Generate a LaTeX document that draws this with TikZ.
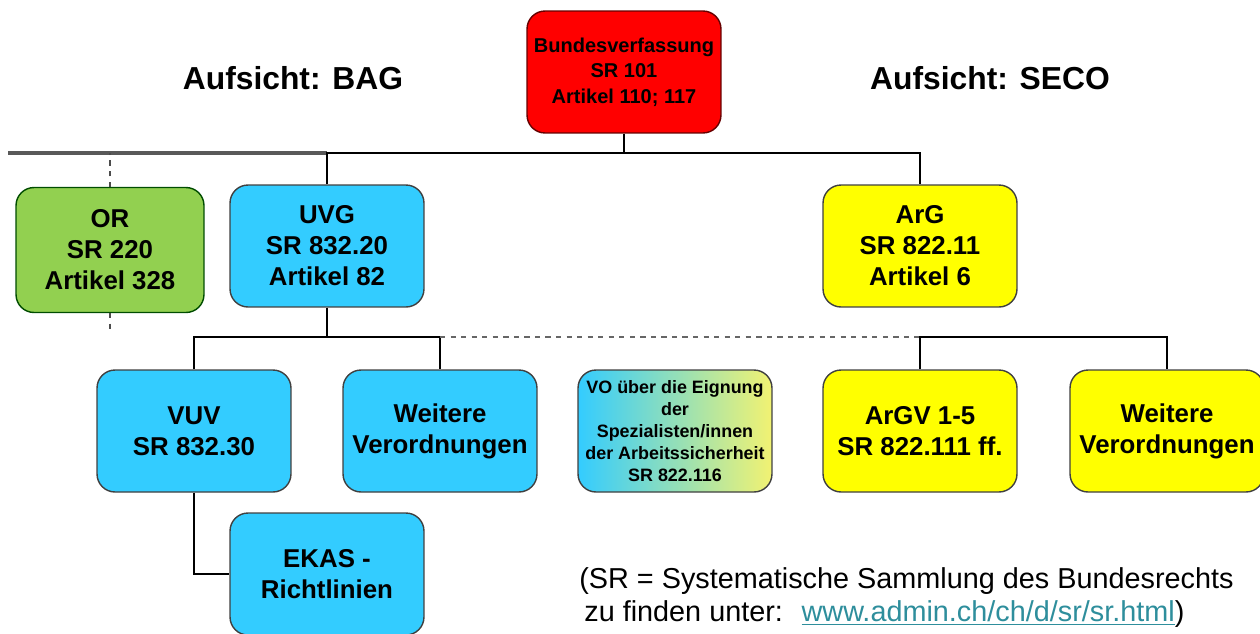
\documentclass[tikz,border=0pt]{standalone}
\usepackage{fontspec}
\setmainfont{Liberation Sans}
\usetikzlibrary{positioning}
\definecolor{bvred}{HTML}{FF0000}
\definecolor{orgreen}{HTML}{92D050}
\definecolor{bagcyan}{HTML}{33CCFF}
\definecolor{secoyellow}{HTML}{FFFF00}
\definecolor{vomid}{HTML}{A9BBB6}
\definecolor{voright}{HTML}{F2F272}
\definecolor{linkteal}{HTML}{2E8E9C}

\begin{document}
\begin{tikzpicture}[x=0.02cm, y=-0.02cm,
  law/.style={draw=black!75, line width=0.8pt, rounded corners=0.36cm, align=center,
    minimum width=3.88cm, minimum height=2.44cm, inner sep=2pt,
    font=\fontsize{14.7}{17.6}\selectfont\bfseries},
  conn/.style={line width=1.2pt},
  title/.style={font=\fontsize{18.1}{21}\selectfont\bfseries},
  note/.style={anchor=west, inner sep=0pt, font=\fontsize{16.4}{18}\selectfont}]
  \useasboundingbox (0,0) rectangle (1260,633);

  % Bundesverfassung
  \node[law, fill=bvred, draw=black!60!red,
        font=\fontsize{11.4}{14.4}\selectfont\bfseries] (bv) at (624,72)
        {Bundesverfassung\\SR 101\\Artikel 110; 117};
  \node[title] (bag) at (293,78) {Aufsicht: BAG};
  \node[title] (seco) at (990,78) {Aufsicht: SECO};

  % Gesetze
  \node[law, fill=orgreen, draw=black!70!green, minimum width=3.76cm, minimum height=2.5cm] (or) at (110,250)
        {OR\\SR 220\\Artikel 328};
  \node[law, fill=bagcyan] (uvg) at (327,246) {UVG\\SR 832.20\\Artikel 82};
  \node[law, fill=secoyellow] (arg) at (920,246) {ArG\\SR 822.11\\Artikel 6};

  % Verordnungen
  \node[law, fill=bagcyan] (vuv) at (194,431) {VUV\\SR 832.30};
  \node[law, fill=bagcyan] (wvl) at (440,431) {Weitere\\Verordnungen};
  \node[law, left color=bagcyan, middle color=vomid, right color=voright,
        font=\fontsize{10.2}{12.5}\selectfont\bfseries] (vo) at (675,431)
        {VO über die Eignung\\der\\Spezialisten/innen\\der Arbeitssicherheit\\SR 822.116};
  \node[law, fill=secoyellow] (argv) at (920,431) {ArGV 1-5\\SR 822.111 ff.};
  \node[law, fill=secoyellow] (wvr) at (1167,431) {Weitere\\Verordnungen};
  \node[law, fill=bagcyan] (ekas) at (327,574) {EKAS -\\Richtlinien};

  % Verbindungen oben
  \coordinate (busE) at (8,153);
  \coordinate (busL) at (327,153);
  \coordinate (busR) at (920,153);
  \draw[line width=2pt, black!65] (busE) -- (busL);
  \draw[conn] (uvg.north) -- (busL) -- (busR) -- (arg.north);
  \draw[conn] (bv.south) -- (bv.south |- busL);
  \draw[conn, dashed, black!70] (or.north) -- (or.north |- busE);
  \coordinate (orEnd) at (110,334);
  \draw[conn, dashed, black!70] (or.south) -- (orEnd);

  % Verbindungen unten
  \coordinate (busM) at (327,337);
  \draw[conn] (uvg.south) -- (busM);
  \draw[conn] (vuv.north) -- (vuv.north |- busM) -- (wvl.north |- busM) -- (wvl.north);
  \draw[line width=1pt, dashed, black!60] (wvl.north |- busM) -- (argv.north |- busM);
  \draw[conn] (argv.north) -- (argv.north |- busM) -- (wvr.north |- busM) -- (wvr.north);
  \draw[conn] (vuv.south) |- (ekas.west);

  % Fussnote
  \node[note] (sr) at (579,581) {(SR = Systematische Sammlung des Bundesrechts};
  \node[note] (url) at (584,614)
        {zu finden unter: \ \textcolor{linkteal}{\underline{www.admin.ch/ch/d/sr/sr.html}})};
\end{tikzpicture}
\end{document}
